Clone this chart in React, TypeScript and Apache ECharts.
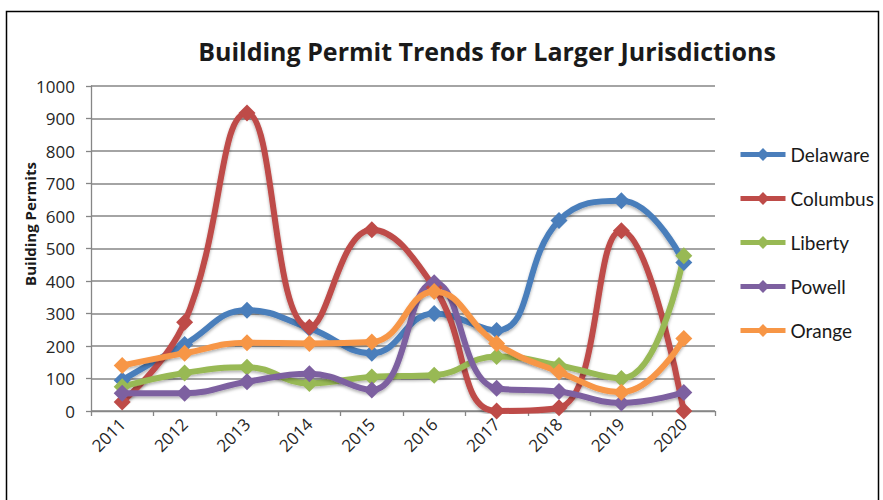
import React, { useEffect, useRef } from "react";
import * as echarts from "echarts";

const years = ["2011", "2012", "2013", "2014", "2015", "2016", "2017", "2018", "2019", "2020"];
const delaware = [95, 205, 310, 255, 178, 300, 248, 586, 647, 457];
const columbus = [28, 273, 917, 258, 558, 380, 0, 10, 555, 0];
const liberty = [75, 117, 135, 85, 105, 110, 168, 140, 100, 478];
const powell = [55, 55, 90, 115, 65, 395, 70, 60, 25, 57];
const orange = [140, 178, 210, 208, 212, 368, 208, 120, 58, 223];

const seriesNames = ["Delaware", "Columbus", "Liberty", "Powell", "Orange"];
const seriesData = [delaware, columbus, liberty, powell, orange];
const colors = ["#4A7EBB", "#BE4B48", "#98B954", "#7D60A0", "#F79646"];

const FONT = "Open Sans";

export default function App() {
  const ref = useRef<HTMLDivElement>(null);
  useEffect(() => {
    document.body.style.margin = "0";
    if (!ref.current) return;
    const chart = echarts.init(ref.current, undefined, { renderer: "svg" });
    chart.setOption({
      animation: false,
      backgroundColor: "#ffffff",
      title: {
        text: "Building Permit Trends for Larger Jurisdictions",
        left: 482,
        top: 33,
        textAlign: "center",
        textStyle: { fontFamily: FONT, fontSize: 25, fontWeight: "bold", color: "#1a1a1a" },
      },
      graphic: [
        {
          type: "rect",
          shape: { x: 6.5, y: 11.5, width: 872, height: 520 },
          style: { fill: "none", stroke: "#000", lineWidth: 1.5 },
          z: -1,
        },
        {
          type: "text",
          x: 30,
          y: 224,
          rotation: Math.PI / 2,
          style: {
            text: "Building Permits",
            fontFamily: FONT,
            fontSize: 15,
            fontWeight: "bold",
            fill: "#1a1a1a",
            align: "center",
            verticalAlign: "middle",
          },
        },
      ],
      legend: {
        orient: "vertical",
        left: 733,
        top: 140,
        itemWidth: 45,
        itemHeight: 16,
        itemGap: 25,
        lineStyle: { width: 5 },
        textStyle: { fontFamily: "Lato", fontSize: 19, color: "#1a1a1a" },
        data: seriesNames,
      },
      grid: { left: 91, right: 168, top: 86, bottom: 89 },
      xAxis: {
        type: "category",
        data: years,
        boundaryGap: true,
        axisLine: { lineStyle: { color: "#868686", width: 1.3 } },
        axisTick: { show: true, length: 5, lineStyle: { color: "#868686", width: 1.3 } },
        axisLabel: {
          rotate: 45,
          margin: 10,
          fontFamily: FONT,
          fontSize: 17,
          color: "#262626",
        },
      },
      yAxis: {
        type: "value",
        min: 0,
        max: 1000,
        interval: 100,
        axisLine: { show: true, lineStyle: { color: "#868686", width: 1.3 } },
        axisTick: { show: true, length: 5, lineStyle: { color: "#868686", width: 1.3 } },
        axisLabel: {
          margin: 16,
          fontFamily: FONT,
          fontSize: 17,
          color: "#262626",
          formatter: (v: number) => String(v),
        },
        splitLine: { lineStyle: { color: "#868686", width: 1.5 } },
      },
      series: seriesNames.map((name, i) => ({
        name,
        type: "line",
        data: seriesData[i],
        smooth: 0.45,
        symbol: "diamond",
        symbolSize: 17,
        color: colors[i],
        lineStyle: {
          width: 6,
          color: colors[i],
          shadowColor: "rgba(0,0,0,0.3)",
          shadowBlur: 3,
          shadowOffsetY: 2,
        },
        itemStyle: { color: colors[i] },
        emphasis: { disabled: true },
      })),
    });
    return () => chart.dispose();
  }, []);
  return <div ref={ref} style={{ width: 883, height: 500 }} />;
}
